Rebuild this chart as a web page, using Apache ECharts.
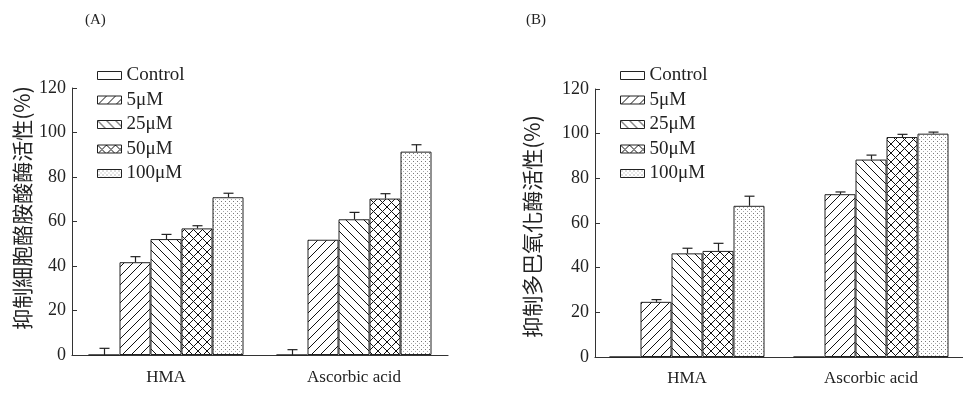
<!DOCTYPE html>
<html>
<head>
<meta charset="utf-8">
<script src="https://cdn.jsdelivr.net/npm/echarts@6/dist/echarts.min.js"></script>
<style>html,body{margin:0;padding:0;background:#fff;}#c{width:963px;height:394px;}</style>
</head>
<body>
<div id="c"></div>
<script>
// ---- data ----
var categories = ['HMA', 'Ascorbic acid'];
var seriesNames = ['Control', '5μM', '25μM', '50μM', '100μM'];
var yTicks = [0, 20, 40, 60, 80, 100, 120];

// Panel A: 抑制細胞酪胺酸酶活性(%)
var aControl = [0, 0];
var a5 = [41.7, 51.8];
var a25 = [52.1, 61.0];
var a50 = [56.9, 70.3];
var a100 = [70.9, 91.4];
var aErrControl = [3.0, 2.4];
var aErr5 = [2.5, 0];
var aErr25 = [2.1, 3.1];
var aErr50 = [1.2, 2.2];
var aErr100 = [1.8, 3.1];

// Panel B: 抑制多巴氧化酶活性(%)
var bControl = [0, 0];
var b5 = [24.7, 72.9];
var b25 = [46.4, 88.4];
var b50 = [47.5, 98.5];
var b100 = [67.7, 100.0];
var bErrControl = [0, 0];
var bErr5 = [1.0, 1.0];
var bErr25 = [2.3, 2.0];
var bErr50 = [3.4, 1.2];
var bErr100 = [4.3, 0.7];

var titleA = '(A)';
var titleB = '(B)';
var yNameA = '抑制細胞酪胺酸酶活性(%)';
var yNameB = '抑制多巴氧化酶活性(%)';

// ---- patterns ----
function tile(w, h, draw) {
  var c = document.createElement('canvas');
  c.width = w; c.height = h;
  var ctx = c.getContext('2d');
  ctx.fillStyle = '#fff';
  ctx.fillRect(0, 0, w, h);
  draw(ctx, w, h);
  return { image: c, repeat: 'repeat' };
}
function diag(ctx, s, dir) {
  ctx.strokeStyle = '#111';
  ctx.lineWidth = 1;
  ctx.beginPath();
  if (dir > 0) {
    ctx.moveTo(-1, s + 1); ctx.lineTo(s + 1, -1);
    ctx.moveTo(-1, 1); ctx.lineTo(1, -1);
    ctx.moveTo(s - 1, s + 1); ctx.lineTo(s + 1, s - 1);
  } else {
    ctx.moveTo(-1, -1); ctx.lineTo(s + 1, s + 1);
    ctx.moveTo(s - 1, -1); ctx.lineTo(s + 1, 1);
    ctx.moveTo(-1, s - 1); ctx.lineTo(1, s + 1);
  }
  ctx.stroke();
}
var S = 9;
var patterns = [
  '#ffffff',
  tile(S, S, function (ctx) { diag(ctx, S, 1); }),
  tile(S, S, function (ctx) { diag(ctx, S, -1); }),
  tile(S, S, function (ctx) { diag(ctx, S, 1); diag(ctx, S, -1); }),
  tile(4, 4, function (ctx) {
    ctx.fillStyle = '#777'; ctx.fillRect(1, 1, 1, 1);
    ctx.fillStyle = '#aaa'; ctx.fillRect(3, 3, 1, 1);
  })
];

var BW = 31;
var valsA = [aControl, a5, a25, a50, a100];
var errsA = [aErrControl, aErr5, aErr25, aErr50, aErr100];
var valsB = [bControl, b5, b25, b50, b100];
var errsB = [bErrControl, bErr5, bErr25, bErr50, bErr100];

function errData(vals, errs) {
  var d = [];
  for (var k = 0; k < vals.length; k++)
    for (var i = 0; i < categories.length; i++)
      d.push([i, vals[k][i], errs[k][i], k]);
  return d;
}
function renderErr(params, api) {
  var i = api.value(0), v = api.value(1), e = api.value(2), k = api.value(3);
  if (!e) return null;
  var base = api.coord([i, v]);
  var top = api.coord([i, v + e]);
  var x = Math.round(base[0] + (k - 2) * BW) + 0.5;
  var st = { stroke: '#222', lineWidth: 1.2 };
  return {
    type: 'group',
    children: [
      { type: 'line', shape: { x1: x, y1: base[1], x2: x, y2: top[1] }, style: st },
      { type: 'line', shape: { x1: x - 5, y1: top[1], x2: x + 5, y2: top[1] }, style: st }
    ]
  };
}

var serif = 'Liberation Serif';
function yAxis(gi, name, gap, pad) {
  return {
    gridIndex: gi, type: 'value', min: 0, max: 120, interval: 20,
    name: name, nameLocation: 'middle', nameGap: gap, nameRotate: 90,
    nameTextStyle: { fontFamily: 'Noto Sans CJK TC', fontSize: 21, color: '#222', padding: pad },
    axisLine: { show: true, lineStyle: { color: '#333', width: 1 } },
    axisTick: { show: true, inside: true, length: 5, lineStyle: { color: '#333' } },
    axisLabel: { fontFamily: serif, fontSize: 18, color: '#222', margin: 6,
      formatter: function (v) { return yTicks.indexOf(v) >= 0 ? String(v) : ''; } },
    splitLine: { show: false }
  };
}
function xAxis(gi, margin) {
  return {
    gridIndex: gi, type: 'category', data: categories,
    axisLine: { show: true, lineStyle: { color: '#333', width: 1.2 } },
    axisTick: { show: false },
    axisLabel: { fontFamily: serif, fontSize: 17, color: '#222', margin: margin }
  };
}
var series = [];
function addPanel(gi, vals, errs) {
  for (var k = 0; k < seriesNames.length; k++) {
    series.push({
      type: 'bar', name: seriesNames[k], xAxisIndex: gi, yAxisIndex: gi,
      data: vals[k], barWidth: BW, barGap: '0%',
      itemStyle: { color: patterns[k], borderColor: '#222', borderWidth: 1 },
      emphasis: { disabled: true }
    });
  }
  series.push({
    type: 'custom', name: 'err' + gi, xAxisIndex: gi, yAxisIndex: gi,
    data: errData(vals, errs), renderItem: renderErr, z: 5, silent: true
  });
}
addPanel(0, valsA, errsA);
addPanel(1, valsB, errsB);

function legend(left) {
  return {
    show: true, orient: 'vertical', left: left, top: 61,
    data: seriesNames, icon: 'rect', itemWidth: 24, itemHeight: 8, itemGap: 5.5,
    selectedMode: false,
    textStyle: { fontFamily: serif, fontSize: 19, color: '#222', lineHeight: 18 },
    itemStyle: { borderColor: '#222', borderWidth: 1 }
  };
}

var chart = echarts.init(document.getElementById('c'), null, { renderer: 'canvas' });
chart.setOption({
  animation: false,
  backgroundColor: '#fff',
  title: [
    { text: titleA, left: 80, top: 8, textStyle: { fontFamily: serif, fontSize: 15, fontWeight: 'normal', color: '#222' } },
    { text: titleB, left: 521, top: 8, textStyle: { fontFamily: serif, fontSize: 15, fontWeight: 'normal', color: '#222' } }
  ],
  legend: [legend(92), legend(615)],
  grid: [
    { left: 72, top: 88, width: 376, height: 267 },
    { left: 595, top: 89, width: 370, height: 268 }
  ],
  xAxis: [xAxis(0, 14), xAxis(1, 13)],
  yAxis: [yAxis(0, yNameA, 39, [0, 0, 0, 27]), yAxis(1, yNameB, 52, [0, 7, 0, 0])],
  series: series
});
</script>
</body>
</html>
